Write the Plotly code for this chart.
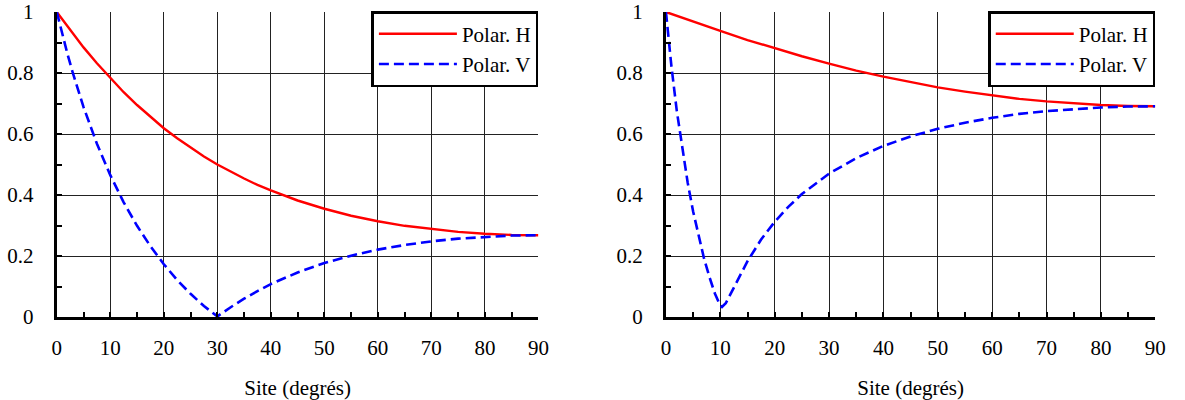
import plotly.graph_objects as go

# ---------------- data ----------------
angles_left = [0, 1, 2, 3, 4, 5, 7.5, 10, 12.5, 15, 17.5, 20, 22.5, 25, 27.5, 30,
               32.5, 35, 37.5, 40, 45, 50, 55, 60, 65, 70, 75, 80, 85, 90]
polar_h_left = [1.000, 0.976, 0.952, 0.929, 0.906, 0.884, 0.832, 0.783, 0.737, 0.695,
                0.656, 0.619, 0.586, 0.555, 0.526, 0.500, 0.476, 0.454, 0.433, 0.415,
                0.382, 0.355, 0.332, 0.314, 0.299, 0.288, 0.279, 0.273, 0.269, 0.268]
polar_v_left = [1.000, 0.929, 0.862, 0.800, 0.743, 0.688, 0.568, 0.465, 0.376, 0.299,
                0.232, 0.173, 0.121, 0.076, 0.036, 0.002, 0.032, 0.060, 0.085, 0.108,
                0.146, 0.177, 0.201, 0.221, 0.236, 0.248, 0.257, 0.263, 0.267, 0.268]

angles_h_right = [0, 5, 10, 15, 20, 25, 30, 35, 40, 45, 50, 55, 60, 65, 70, 75, 80, 85, 90]
polar_h_right = [1.000, 0.968, 0.938, 0.908, 0.881, 0.855, 0.831, 0.808, 0.788, 0.770,
                 0.753, 0.739, 0.726, 0.715, 0.707, 0.700, 0.695, 0.692, 0.691]

angles_v_right = [0, 1, 2, 3, 4, 5, 6, 7, 8, 9, 10, 10.3, 11, 12, 13, 14, 15, 17.5, 20,
                  22.5, 25, 30, 35, 40, 45, 50, 55, 60, 65, 70, 75, 80, 85, 90]
polar_v_right = [1.000, 0.823, 0.675, 0.549, 0.440, 0.346, 0.264, 0.192, 0.131, 0.077,
                 0.037, 0.033, 0.045, 0.080, 0.117, 0.151, 0.183, 0.254, 0.312, 0.361,
                 0.403, 0.470, 0.521, 0.561, 0.592, 0.617, 0.637, 0.653, 0.666, 0.675,
                 0.682, 0.687, 0.690, 0.691]

x_tick_vals = [0, 10, 20, 30, 40, 50, 60, 70, 80, 90]
y_tick_vals = [0, 0.2, 0.4, 0.6, 0.8, 1]
y_tick_text = ["0", "0.2", "0.4", "0.6", "0.8", "1"]
x_title = "Site (degrés)"
name_h = "Polar. H"
name_v = "Polar. V"

# ---------------- styling ----------------
FONT = "Liberation Serif"
RED = "#ff0000"
BLUE = "#0000ff"
W, H = 1185, 400
L_LEFT, R_LEFT = 52.5, 540.7
L_RIGHT, R_RIGHT = 670.0, 1166.0

fig = go.Figure()

def add_pair(ang_h, val_h, ang_v, val_v, xa, ya, leg, grp):
    fig.add_trace(go.Scatter(x=ang_h, y=val_h, mode="lines", name=name_h,
                             line=dict(color=RED, width=2.4),
                             xaxis=xa, yaxis=ya, legend=leg, legendgroup=grp + "h"))
    fig.add_trace(go.Scatter(x=ang_v, y=val_v, mode="lines", name=name_v,
                             line=dict(color=BLUE, width=2.6, dash="10px,5px"),
                             xaxis=xa, yaxis=ya, legend=leg, legendgroup=grp + "v"))

add_pair(angles_left, polar_h_left, angles_left, polar_v_left, "x", "y", "legend", "a")
add_pair(angles_h_right, polar_h_right, angles_v_right, polar_v_right, "x2", "y2", "legend2", "b")

tickfont = dict(family=FONT, size=21, color="black")

def xaxis(domain, anchor):
    return dict(domain=domain, anchor=anchor, range=[0, 90], tickmode="array",
                tickvals=x_tick_vals, ticks="inside", ticklen=5, tickwidth=2,
                tickcolor="black", showline=True, linewidth=3, linecolor="black",
                showgrid=True, gridcolor="#222222", gridwidth=1, zeroline=False,
                minor=dict(tick0=0, dtick=5, ticks="inside", ticklen=5, tickwidth=2,
                           tickcolor="black", showgrid=False),
                tickfont=tickfont, ticklabelstandoff=10,
                title=dict(text=x_title, font=dict(family=FONT, size=21, color="black"),
                           standoff=22),
                fixedrange=True)

def yaxis(anchor):
    return dict(domain=[0, 1], anchor=anchor, range=[0, 1], tickmode="array",
                tickvals=y_tick_vals, ticktext=y_tick_text, ticks="inside", ticklen=5,
                tickwidth=2, tickcolor="black", showline=True, linewidth=3,
                linecolor="black", showgrid=True, gridcolor="#222222", gridwidth=1,
                zeroline=False,
                minor=dict(tick0=0, dtick=0.1, ticks="inside", ticklen=5, tickwidth=2,
                           tickcolor="black", showgrid=False),
                tickfont=tickfont, ticklabelstandoff=16, fixedrange=True)

legend_common = dict(font=dict(family=FONT, size=21, color="black"),
                     bgcolor="white", bordercolor="black", borderwidth=2.5,
                     xanchor="right", yanchor="top", y=1.003,
                     tracegroupgap=0, traceorder="grouped", itemwidth=78)

fig.update_layout(
    width=W, height=H,
    font=dict(family=FONT, size=21, color="black"),
    margin=dict(l=0, r=0, t=12, b=83),
    paper_bgcolor="white", plot_bgcolor="white",
    xaxis=xaxis([L_LEFT / W, R_LEFT / W], "y"),
    yaxis=yaxis("x"),
    xaxis2=xaxis([L_RIGHT / W, R_RIGHT / W], "y2"),
    yaxis2=yaxis("x2"),
    legend=dict(x=R_LEFT / W, **legend_common),
    legend2=dict(x=R_RIGHT / W, **legend_common),
    showlegend=True,
)

fig.write_html(
    "out.html",
    config={"responsive": False, "displayModeBar": False},
    post_script="document.body.style.margin='0';document.body.style.padding='0';"
                "document.body.style.overflow='hidden';",
)
